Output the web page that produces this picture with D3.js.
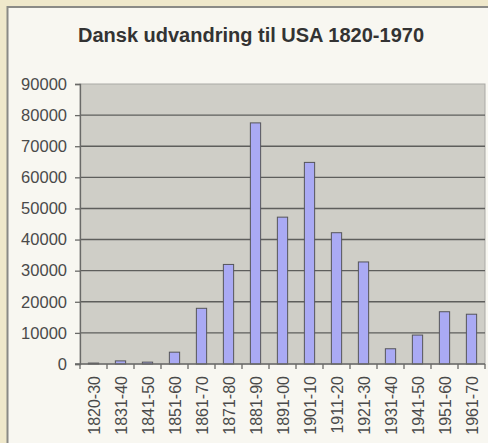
<!DOCTYPE html>
<html>
<head>
<meta charset="utf-8">
<script src="https://cdn.jsdelivr.net/npm/d3@7"></script>
<style>
  body { margin: 0; background: #efe8cb; }
  svg { display: block; }
</style>
</head>
<body>
<svg id="chart" width="488" height="443"></svg>
<script>
var periods = ["1820-30", "1831-40", "1841-50", "1851-60", "1861-70", "1871-80", "1881-90",
    "1891-00", "1901-10", "1911-20", "1921-30", "1931-40", "1941-50", "1951-60", "1961-70"];
var emigrants = [300, 1000, 600, 3800, 17900, 32000, 77500, 47200, 64800, 42200, 32800, 4900, 9300, 16800, 16000];
var yTicks = [0, 10000, 20000, 30000, 40000, 50000, 60000, 70000, 80000, 90000];

var svg = d3.select("#chart");

// parchment background + white panel
svg.append("rect")
    .attr("width", 488).attr("height", 443)
    .attr("fill", "#efe8cb");
svg.append("rect")
    .attr("x", 7.5).attr("y", 7)
    .attr("width", 500).attr("height", 460)
    .attr("fill", "#f8f7f1")
    .attr("stroke", "#8a8a86")
    .attr("stroke-width", 2);

var margin = {left: 80, top: 84, right: 485, bottom: 364};

var x = d3.scaleBand()
    .domain(periods)
    .range([margin.left, margin.right])
    .paddingInner(0.62)
    .paddingOuter(0.31);

var y = d3.scaleLinear()
    .domain([0, 90000])
    .range([margin.bottom, margin.top]);

// plot area
svg.append("rect")
    .attr("x", margin.left).attr("y", margin.top)
    .attr("width", margin.right - margin.left)
    .attr("height", margin.bottom - margin.top)
    .attr("fill", "#cfcec7")
    .attr("stroke", "#a9a9a5");

svg.append("g")
    .attr("class", "grid")
    .selectAll("line")
    .data(yTicks.filter(function (d) { return d > 0 && d < 90000; }))
    .enter().append("line")
    .attr("x1", margin.left).attr("x2", margin.right)
    .attr("y1", function (d) { return y(d); })
    .attr("y2", function (d) { return y(d); })
    .attr("stroke", "#5e5e5c")
    .attr("stroke-width", 1.4);

svg.append("g")
    .selectAll("rect")
    .data(emigrants)
    .enter().append("rect")
    .attr("x", function (d, i) { return x(periods[i]); })
    .attr("y", function (d) { return y(d); })
    .attr("width", x.bandwidth())
    .attr("height", function (d) { return y(0) - y(d); })
    .attr("fill", "#aaaaf4")
    .attr("stroke", "#55555a")
    .attr("stroke-width", 1);

// y axis
var yAxis = svg.append("g")
    .attr("transform", "translate(" + margin.left + ",0)")
    .call(d3.axisLeft(y).tickValues(yTicks).tickSize(5).tickPadding(8).tickFormat(d3.format("d")));
yAxis.select(".domain").attr("stroke", "#6a6a68").attr("stroke-width", 1.3);
yAxis.selectAll(".tick line").attr("stroke", "#6a6a68").attr("stroke-width", 1.3);
yAxis.selectAll("text")
    .attr("fill", "#4a4a4a")
    .style("font-family", "'Liberation Sans', Arial, sans-serif")
    .style("font-size", "16.5px");

// x axis, ticks between categories
var step = x.step();
var xAxis = svg.append("g")
    .attr("transform", "translate(0," + margin.bottom + ")");
xAxis.append("line")
    .attr("x1", margin.left - 5).attr("x2", margin.right)
    .attr("stroke", "#6a6a68").attr("stroke-width", 1.3);
xAxis.selectAll(".sep")
    .data(d3.range(periods.length + 1))
    .enter().append("line")
    .attr("class", "sep")
    .attr("x1", function (i) { return margin.left + i * step; })
    .attr("x2", function (i) { return margin.left + i * step; })
    .attr("y1", 0).attr("y2", 5)
    .attr("stroke", "#6a6a68").attr("stroke-width", 1.3);
xAxis.selectAll(".lbl")
    .data(periods)
    .enter().append("text")
    .attr("class", "lbl")
    .attr("transform", function (d) {
        return "translate(" + (x(d) + x.bandwidth() / 2 + 6) + ",12) rotate(-90)";
    })
    .attr("text-anchor", "end")
    .attr("fill", "#4a4a4a")
    .style("font-family", "'Liberation Sans', Arial, sans-serif")
    .style("font-size", "16px")
    .text(function (d) { return d; });

svg.append("text")
    .attr("x", 251).attr("y", 42)
    .attr("text-anchor", "middle")
    .attr("fill", "#333")
    .style("font-family", "'Liberation Sans', Arial, sans-serif")
    .style("font-weight", "bold")
    .style("font-size", "20px")
    .text("Dansk udvandring til USA 1820-1970");
</script>
</body>
</html>
